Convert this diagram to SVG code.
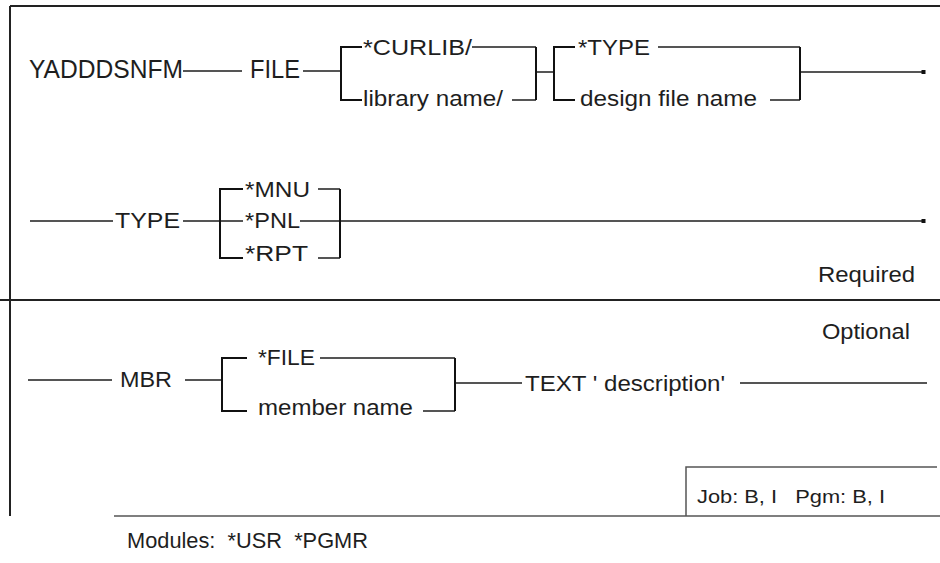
<svg xmlns="http://www.w3.org/2000/svg" width="940" height="563" viewBox="0 0 940 563">
<style>
text{font-family:"Liberation Sans",Arial,sans-serif;font-size:22px;fill:#1e1e1e;white-space:pre}
.t{font-size:25px}
.s{font-size:18px}
.ln{stroke:#1e1e1e;stroke-width:1.6;fill:none}
.br{stroke:#111;stroke-width:2;fill:none}
.fr{stroke:#222;stroke-width:2;fill:none}
.gr{stroke:#555;stroke-width:1.5;fill:none}
</style>
<rect width="940" height="563" fill="#fff"/>
<g id="frame">
<path class="fr" d="M10 6H940M10 6V516M0 300H940"/>
<path class="gr" d="M114 516H940M686 516V467H937"/>
</g>
<g id="connectors">
<path class="ln" d="M183 71H242M303 71H341M536 72H554M800 72H924"/>
<path class="ln" d="M472 47H536M512 100H536M658 47H800M770 100H800"/>
<path class="ln" d="M30 221H113M183 221H243M300 221H924M318 189H340M318 258H340"/>
<path class="ln" d="M28 380H112M185 380H222M455 383H522M740 383H927M320 358H455M423 411H455"/>
<rect x="921.5" y="70" width="4" height="4" fill="#111"/>
<rect x="921.5" y="219" width="4" height="4" fill="#111"/>
</g>
<g id="brackets">
<path class="br" d="M362 47H341V100H362M536 47V100"/>
<path class="br" d="M575 47H554V100H575M800 47V100"/>
<path class="br" d="M243 189H220V258H243M340 189V258"/>
<path class="br" d="M247 358H222V411H247M455 358V411"/>
</g>
<g id="n-cmd"><text class="t" x="29" y="78" textLength="154" lengthAdjust="spacingAndGlyphs">YADDDSNFM</text></g>
<g id="n-file"><text class="t" x="250" y="78" textLength="50" lengthAdjust="spacingAndGlyphs">FILE</text></g>
<g id="n-curlib"><text x="363" y="55" textLength="109" lengthAdjust="spacingAndGlyphs">*CURLIB/</text></g>
<g id="n-libname"><text x="363" y="106" textLength="140" lengthAdjust="spacingAndGlyphs">library name/</text></g>
<g id="n-type-default"><text x="578" y="55" textLength="72" lengthAdjust="spacingAndGlyphs">*TYPE</text></g>
<g id="n-designfile"><text x="580" y="106" textLength="177" lengthAdjust="spacingAndGlyphs">design file name</text></g>
<g id="n-type"><text x="115" y="228" textLength="65" lengthAdjust="spacingAndGlyphs">TYPE</text></g>
<g id="n-mnu"><text x="245" y="197" textLength="65" lengthAdjust="spacingAndGlyphs">*MNU</text></g>
<g id="n-pnl"><text x="245" y="228" textLength="55" lengthAdjust="spacingAndGlyphs">*PNL</text></g>
<g id="n-rpt"><text x="245" y="261" textLength="63" lengthAdjust="spacingAndGlyphs">*RPT</text></g>
<g id="n-required"><text x="818" y="282" textLength="97" lengthAdjust="spacingAndGlyphs">Required</text></g>
<g id="n-optional"><text x="822" y="339" textLength="88" lengthAdjust="spacingAndGlyphs">Optional</text></g>
<g id="n-mbr"><text x="120" y="387" textLength="52" lengthAdjust="spacingAndGlyphs">MBR</text></g>
<g id="n-file-default"><text x="258" y="365" textLength="57" lengthAdjust="spacingAndGlyphs">*FILE</text></g>
<g id="n-member"><text x="258" y="415" textLength="155" lengthAdjust="spacingAndGlyphs">member name</text></g>
<g id="n-text"><text x="525" y="391" textLength="200" lengthAdjust="spacingAndGlyphs">TEXT ' description'</text></g>
<g id="n-job"><text class="s" x="697" y="503" textLength="188" lengthAdjust="spacingAndGlyphs">Job: B, I   Pgm: B, I</text></g>
<g id="n-modules"><text x="127" y="548" textLength="241" lengthAdjust="spacingAndGlyphs">Modules:  *USR  *PGMR</text></g>
</svg>
